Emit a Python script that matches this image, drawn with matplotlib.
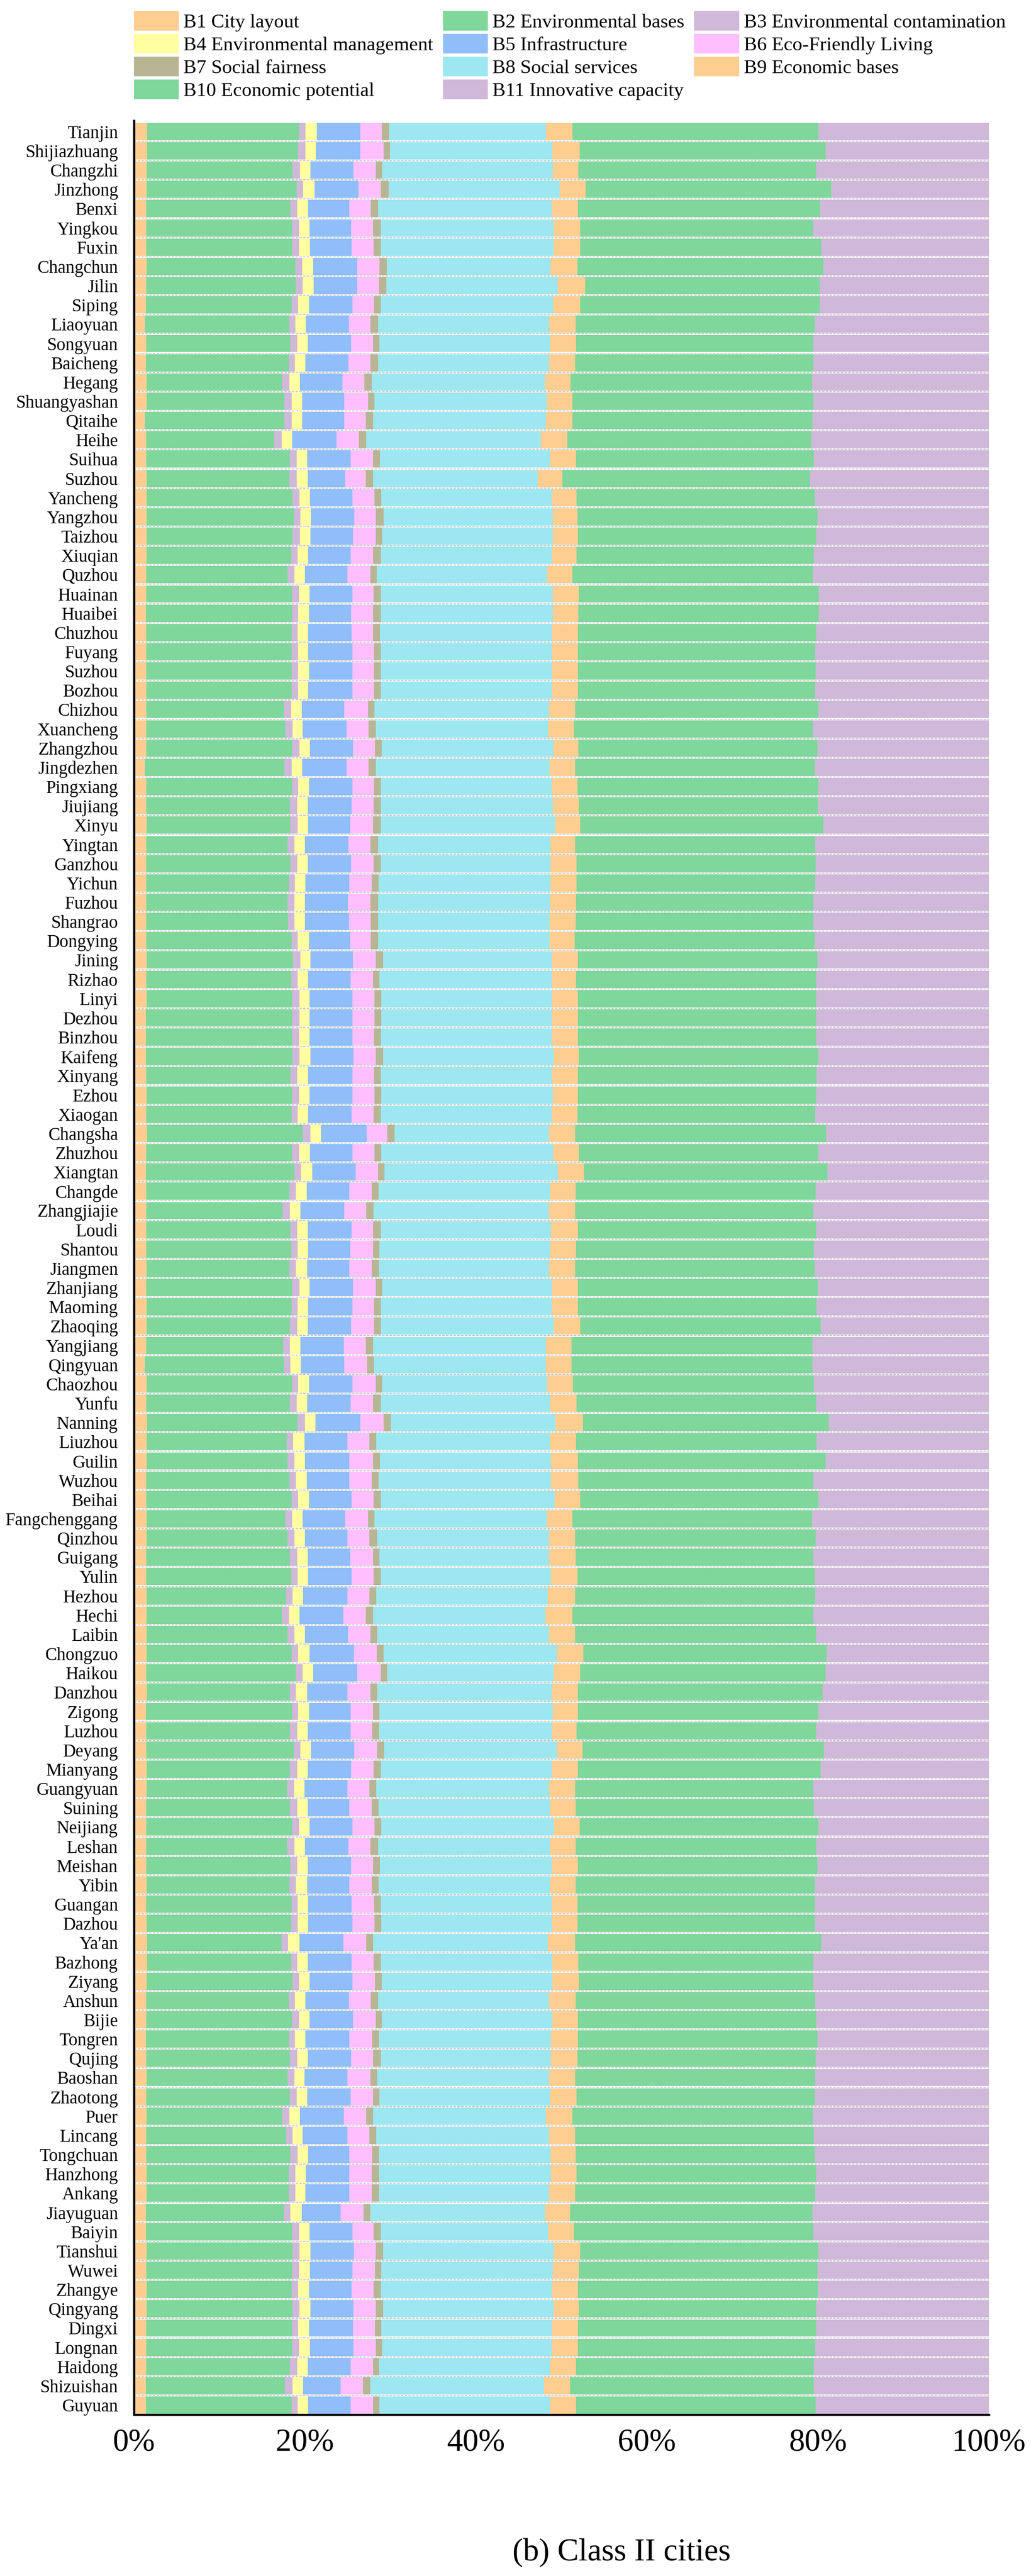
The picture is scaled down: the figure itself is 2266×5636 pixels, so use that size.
import numpy as np
import matplotlib
matplotlib.use("Agg")
import matplotlib.pyplot as plt
from matplotlib.patches import Patch

plt.rcParams['font.family'] = ['Liberation Serif', 'DejaVu Serif']

cities = ["Tianjin", "Shijiazhuang", "Changzhi", "Jinzhong", "Benxi", "Yingkou", "Fuxin", "Changchun",
          "Jilin", "Siping", "Liaoyuan", "Songyuan", "Baicheng", "Hegang", "Shuangyashan", "Qitaihe",
          "Heihe", "Suihua", "Suzhou", "Yancheng", "Yangzhou", "Taizhou", "Xiuqian", "Quzhou",
          "Huainan", "Huaibei", "Chuzhou", "Fuyang", "Suzhou", "Bozhou", "Chizhou", "Xuancheng",
          "Zhangzhou", "Jingdezhen", "Pingxiang", "Jiujiang", "Xinyu", "Yingtan", "Ganzhou", "Yichun",
          "Fuzhou", "Shangrao", "Dongying", "Jining", "Rizhao", "Linyi", "Dezhou", "Binzhou",
          "Kaifeng", "Xinyang", "Ezhou", "Xiaogan", "Changsha", "Zhuzhou", "Xiangtan", "Changde",
          "Zhangjiajie", "Loudi", "Shantou", "Jiangmen", "Zhanjiang", "Maoming", "Zhaoqing", "Yangjiang",
          "Qingyuan", "Chaozhou", "Yunfu", "Nanning", "Liuzhou", "Guilin", "Wuzhou", "Beihai",
          "Fangchenggang", "Qinzhou", "Guigang", "Yulin", "Hezhou", "Hechi", "Laibin", "Chongzuo",
          "Haikou", "Danzhou", "Zigong", "Luzhou", "Deyang", "Mianyang", "Guangyuan", "Suining",
          "Neijiang", "Leshan", "Meishan", "Yibin", "Guangan", "Dazhou", "Ya'an", "Bazhong",
          "Ziyang", "Anshun", "Bijie", "Tongren", "Qujing", "Baoshan", "Zhaotong", "Puer",
          "Lincang", "Tongchuan", "Hanzhong", "Ankang", "Jiayuguan", "Baiyin", "Tianshui", "Wuwei",
          "Zhangye", "Qingyang", "Dingxi", "Longnan", "Haidong", "Shizuishan", "Guyuan"]

series_names = ["B1 City layout", "B2 Environmental bases", "B3 Environmental contamination",
                "B4 Environmental management", "B5 Infrastructure", "B6 Eco-Friendly Living",
                "B7 Social fairness", "B8 Social services", "B9 Economic bases",
                "B10 Economic potential", "B11 Innovative capacity"]

B1 = [24, 24, 23, 23, 22, 22, 22, 23, 22, 21, 20, 22, 21, 23, 23, 20, 22, 22, 23, 23,
      23, 23, 23, 22, 22, 21, 22, 22, 22, 22, 22, 22, 22, 20, 22, 22, 23, 22, 22, 22,
      22, 22, 22, 23, 22, 23, 21, 21, 21, 22, 23, 22, 24, 22, 21, 22, 22, 22, 22, 23,
      22, 23, 23, 22, 20, 23, 22, 24, 23, 23, 22, 22, 23, 23, 22, 22, 23, 23, 23, 23,
      22, 24, 21, 22, 22, 23, 23, 22, 22, 22, 22, 23, 22, 23, 24, 24, 23, 22, 22, 21,
      22, 23, 22, 23, 22, 22, 23, 23, 21, 21, 23, 22, 23, 23, 22, 22, 22, 21, 21]
B2 = [272, 271, 262, 269, 259, 262, 262, 267, 269, 262, 259, 259, 257, 243, 247, 250, 230, 258, 256, 262,
      264, 262, 259, 254, 262, 263, 261, 261, 261, 261, 247, 250, 262, 250, 262, 258, 258, 254, 259, 256,
      254, 255, 261, 263, 260, 261, 263, 263, 264, 259, 261, 261, 279, 262, 267, 257, 245, 259, 260, 256,
      262, 260, 257, 246, 249, 261, 258, 270, 251, 253, 257, 261, 249, 253, 258, 260, 250, 243, 253, 260,
      269, 256, 263, 258, 265, 257, 252, 258, 262, 253, 259, 256, 261, 259, 241, 258, 262, 256, 262, 257,
      258, 253, 258, 243, 251, 259, 255, 255, 248, 263, 262, 262, 260, 262, 262, 262, 258, 250, 262]
B3 = [12, 13, 13, 12, 12, 12, 12, 12, 12, 12, 11, 12, 11, 13, 13, 13, 13, 12, 13, 12,
      12, 13, 12, 12, 12, 11, 11, 12, 12, 12, 13, 13, 13, 13, 11, 13, 13, 12, 12, 11,
      12, 11, 11, 13, 12, 13, 13, 12, 12, 12, 12, 11, 14, 12, 12, 12, 13, 12, 12, 12,
      13, 11, 13, 12, 12, 11, 12, 13, 12, 12, 12, 12, 12, 12, 13, 12, 12, 12, 12, 12,
      12, 11, 11, 13, 12, 13, 12, 13, 12, 13, 12, 12, 11, 12, 12, 11, 11, 11, 12, 11,
      13, 12, 12, 13, 12, 13, 12, 12, 12, 12, 12, 12, 12, 12, 11, 12, 13, 14, 11]
B4 = [20, 19, 19, 20, 20, 19, 20, 20, 20, 19, 19, 19, 19, 19, 19, 19, 19, 19, 20, 19,
      19, 19, 19, 19, 19, 19, 19, 18, 19, 18, 19, 18, 19, 19, 19, 19, 19, 19, 19, 19,
      19, 19, 20, 18, 19, 18, 18, 19, 20, 20, 19, 19, 19, 20, 20, 19, 19, 19, 19, 20,
      18, 19, 19, 19, 19, 19, 19, 19, 20, 19, 19, 19, 19, 19, 19, 19, 19, 19, 19, 20,
      19, 20, 19, 19, 19, 19, 19, 19, 19, 19, 19, 20, 19, 19, 20, 19, 19, 19, 19, 19,
      19, 18, 19, 19, 18, 19, 19, 18, 20, 19, 20, 20, 19, 20, 19, 20, 19, 19, 19]
B5 = [78, 79, 77, 79, 74, 75, 75, 79, 78, 78, 77, 78, 77, 76, 76, 76, 80, 78, 67, 76,
      78, 76, 76, 76, 77, 76, 78, 79, 78, 79, 77, 79, 77, 80, 78, 79, 75, 78, 78, 79,
      77, 79, 74, 76, 76, 77, 77, 77, 77, 79, 77, 78, 82, 76, 78, 77, 79, 79, 75, 76,
      78, 79, 78, 78, 78, 78, 78, 80, 77, 80, 77, 77, 76, 76, 76, 78, 79, 79, 77, 80,
      79, 72, 75, 77, 78, 78, 77, 75, 77, 78, 78, 76, 78, 79, 79, 79, 77, 78, 78, 79,
      78, 77, 78, 79, 80, 74, 78, 79, 70, 77, 78, 76, 77, 77, 79, 78, 77, 67, 76]
B6 = [39, 42, 40, 40, 38, 39, 39, 40, 39, 39, 38, 39, 39, 40, 42, 38, 40, 40, 37, 40,
      38, 41, 40, 41, 38, 39, 38, 39, 39, 39, 42, 39, 40, 39, 39, 39, 41, 39, 40, 40,
      40, 39, 37, 41, 40, 40, 40, 39, 40, 39, 40, 39, 37, 40, 40, 40, 39, 38, 41, 40,
      41, 39, 41, 39, 41, 42, 40, 42, 40, 42, 40, 39, 41, 40, 41, 39, 40, 40, 40, 41,
      42, 41, 40, 39, 41, 40, 40, 40, 40, 39, 39, 40, 40, 40, 41, 39, 41, 39, 41, 41,
      39, 41, 40, 40, 40, 41, 40, 40, 41, 38, 39, 41, 39, 40, 40, 40, 40, 40, 40]
B7 = [13, 12, 12, 14, 13, 14, 13, 13, 13, 12, 14, 12, 14, 13, 12, 13, 13, 13, 13, 12,
      14, 12, 14, 12, 13, 14, 13, 12, 12, 12, 12, 13, 12, 13, 12, 13, 14, 14, 13, 12,
      14, 13, 13, 13, 12, 12, 12, 12, 13, 12, 12, 13, 13, 12, 12, 12, 13, 14, 12, 13,
      12, 12, 12, 13, 12, 12, 14, 13, 12, 13, 12, 13, 12, 14, 12, 13, 12, 13, 13, 12,
      12, 13, 12, 12, 12, 13, 12, 12, 12, 14, 13, 12, 12, 12, 12, 13, 12, 13, 11, 12,
      14, 13, 12, 12, 12, 12, 13, 13, 12, 13, 13, 11, 13, 13, 11, 12, 11, 13, 12]
B8 = [282, 291, 306, 307, 312, 311, 311, 294, 308, 310, 307, 306, 307, 311, 309, 311, 314, 305, 296, 306,
      304, 306, 307, 306, 309, 309, 308, 307, 307, 307, 313, 310, 308, 312, 307, 309, 313, 310, 305, 309,
      309, 308, 308, 303, 309, 306, 306, 307, 307, 307, 308, 307, 277, 309, 311, 308, 315, 306, 306, 305,
      304, 307, 311, 311, 309, 296, 304, 296, 312, 307, 310, 312, 309, 308, 304, 306, 308, 310, 308, 311,
      299, 313, 311, 310, 310, 307, 310, 308, 310, 309, 308, 308, 307, 306, 314, 308, 306, 307, 306, 309,
      306, 308, 306, 311, 310, 308, 309, 305, 314, 301, 307, 308, 307, 307, 306, 304, 307, 312, 306]
B9 = [47, 49, 46, 47, 47, 47, 47, 48, 49, 48, 48, 47, 47, 46, 46, 47, 47, 47, 44, 45,
      44, 45, 45, 45, 47, 46, 47, 47, 47, 47, 47, 46, 45, 46, 46, 47, 45, 44, 47, 47,
      47, 47, 45, 47, 44, 47, 47, 47, 45, 47, 45, 46, 47, 46, 47, 46, 47, 48, 47, 47,
      47, 47, 47, 46, 46, 46, 48, 49, 47, 48, 49, 46, 46, 47, 48, 47, 49, 48, 47, 48,
      47, 47, 45, 45, 46, 47, 47, 46, 46, 46, 47, 46, 46, 46, 49, 47, 48, 48, 46, 48,
      47, 47, 48, 47, 47, 45, 46, 47, 45, 46, 47, 47, 47, 45, 47, 47, 47, 47, 47]
B10 = [442, 442, 427, 441, 435, 419, 433, 442, 421, 430, 429, 426, 428, 433, 433, 431, 438, 427, 445, 427,
       431, 428, 426, 432, 431, 432, 428, 426, 427, 426, 437, 429, 429, 430, 433, 429, 437, 431, 429, 428,
       426, 427, 431, 430, 431, 428, 428, 428, 430, 429, 428, 427, 451, 430, 437, 431, 428, 428, 427, 430,
       431, 429, 432, 432, 432, 433, 430, 442, 432, 445, 422, 428, 430, 432, 427, 426, 431, 433, 433, 437,
       441, 439, 432, 430, 434, 436, 428, 428, 429, 432, 430, 429, 426, 426, 442, 422, 421, 430, 428, 430,
       428, 431, 427, 432, 429, 429, 430, 431, 435, 430, 428, 428, 431, 426, 428, 426, 427, 438, 430]
B11 = [306, 293, 310, 283, 303, 315, 301, 297, 304, 304, 313, 315, 315, 318, 315, 317, 319, 314, 321, 313,
       308, 310, 314, 316, 305, 305, 310, 312, 311, 312, 306, 316, 308, 313, 306, 307, 297, 312, 311, 312,
       315, 315, 313, 308, 310, 310, 310, 310, 306, 309, 310, 312, 292, 306, 290, 311, 315, 310, 314, 313,
       307, 309, 302, 317, 317, 314, 310, 287, 309, 293, 315, 306, 318, 311, 315, 313, 312, 315, 310, 291,
       293, 299, 306, 310, 296, 302, 315, 314, 306, 310, 308, 313, 313, 313, 301, 315, 315, 312, 310, 308,
       311, 312, 313, 316, 314, 313, 310, 312, 317, 315, 306, 308, 307, 310, 310, 312, 314, 314, 311]

colors = ["#FECE91", "#7FD79B", "#D0B8DA", "#FFFFA0", "#8FBEF8", "#FFBFFF",
          "#B8B594", "#9DE7F0", "#FECE91", "#7FD79B", "#D0B8DA"]

data = np.array([B1, B2, B3, B4, B5, B6, B7, B8, B9, B10, B11], dtype=float)
pct = data / data.sum(axis=0) * 100.0

fig = plt.figure(figsize=(22.66, 56.36), dpi=100)
ax = fig.add_axes([0.1293, 0.0626, 0.8252, 0.8906])

y = np.arange(len(cities))
left = np.zeros(len(cities))
handles = []
for k in range(len(series_names)):
    ax.barh(y, pct[k], left=left, height=0.9, color=colors[k], linewidth=0, zorder=2)
    left += pct[k]
    handles.append(Patch(facecolor=colors[k], edgecolor='none', label=series_names[k]))

for i in range(len(cities) - 1):
    ax.axhline(i + 0.5, color='#c8c8c8', lw=1.6, ls=(0, (2.5, 1.2)), zorder=1)

ax.set_xlim(0, 100)
ax.set_ylim(118.5, -0.57)
ax.set_yticks(y)
ax.set_yticklabels(cities, fontsize=28)
ax.set_xticks([0, 20, 40, 60, 80, 100])
ax.set_xticklabels(["0%", "20%", "40%", "60%", "80%", "100%"], fontsize=50)
ax.tick_params(axis='y', length=0, pad=25)
ax.tick_params(axis='x', length=0, pad=22)
for s in ['top', 'right']:
    ax.spines[s].set_visible(False)
for s in ['left', 'bottom']:
    ax.spines[s].set_linewidth(3.5)
    ax.spines[s].set_color('black')

order = [0, 3, 6, 9, 1, 4, 7, 10, 2, 5, 8]
fig.legend([handles[i] for i in order], [series_names[i] for i in order],
           loc='upper left', bbox_to_anchor=(0.1293, 0.9957), ncol=3, frameon=False,
           fontsize=31, handlelength=2.28, handleheight=1.14, handletextpad=0.23,
           labelspacing=0.12, columnspacing=0.5, borderpad=0, borderaxespad=0)

fig.text(0.600, 0.0035, "(b) Class II cities", fontsize=50, ha='center', va='bottom')

fig.savefig("out.png", dpi=100)
